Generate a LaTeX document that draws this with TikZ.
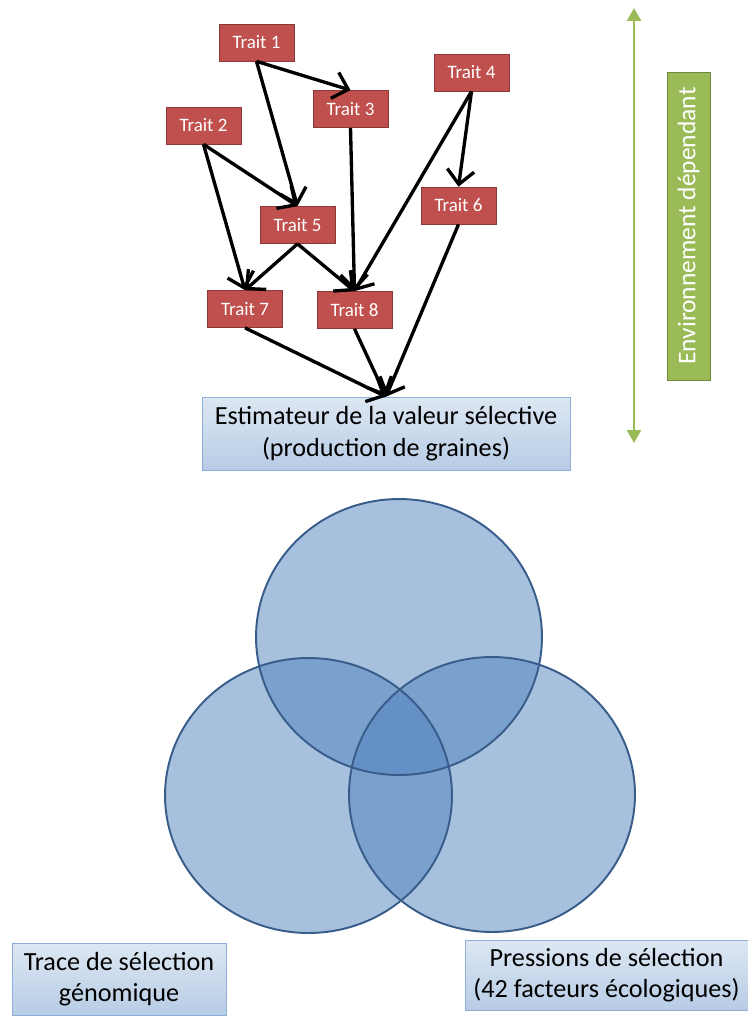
\documentclass[tikz,border=0pt]{standalone}
\usepackage{fontspec}
\setmainfont{Carlito}
\usepackage{tikz}
\usetikzlibrary{arrows.meta, shadows}

\definecolor{traitred}{HTML}{C0504D}
\definecolor{traitedge}{HTML}{8C3836}
\definecolor{boxtop}{HTML}{DDE7F3}
\definecolor{boxbottom}{HTML}{B7CCE5}
\definecolor{boxedge}{HTML}{8EAEDA}
\definecolor{envgreen}{HTML}{9BBB59}
\definecolor{envedge}{HTML}{71893F}
\definecolor{vennblue}{HTML}{4F81BD}
\definecolor{vennedge}{HTML}{385D8A}

\begin{document}
\begin{tikzpicture}[
        x=0.02cm, y=-0.02cm,
        trait/.style={
            rectangle,
            draw=traitedge,
            fill=traitred,
            text=white,
            font=\fontsize{10.8}{12}\selectfont,
            minimum width=1.5cm,
            minimum height=0.74cm,
            inner sep=0pt
        },
        result/.style={
            rectangle,
            draw=boxedge,
            top color=boxtop,
            bottom color=boxbottom,
            drop shadow={opacity=0.25, shadow xshift=0.6pt, shadow yshift=-0.8pt},
            align=center,
            font=\fontsize{14.9}{18}\selectfont,
            inner sep=0pt
        },
        envbox/.style={
            rectangle,
            draw=envedge,
            fill=envgreen,
            text=white,
            rotate=90,
            font=\fontsize{14.5}{17}\selectfont,
            minimum width=6.16cm,
            minimum height=0.86cm,
            inner sep=0pt
        },
        arr/.style={-{Straight Barb[length=2.8mm, width=5.4mm]}, line width=1.9pt},
        envarr/.style={{Triangle[length=2.6mm, width=2.8mm]}-{Triangle[length=2.6mm, width=2.8mm]}, draw=envgreen, line width=1.5pt},
        venn/.style={fill=vennblue, fill opacity=0.5},
        vennline/.style={draw=vennedge, line width=1.1pt}
    ]
        \useasboundingbox (0,0) rectangle (747,1017);

        % traits
        \node[trait] (t1) at (256.5,42.5) {Trait 1};
        \node[trait] (t2) at (203.5,125.5) {Trait 2};
        \node[trait] (t3) at (350.5,109) {Trait 3};
        \node[trait] (t4) at (471.5,72.5) {Trait 4};
        \node[trait] (t5) at (297.5,225) {Trait 5};
        \node[trait] (t6) at (458.5,205.5) {Trait 6};
        \node[trait] (t7) at (245,309) {Trait 7};
        \node[trait] (t8) at (354.5,310) {Trait 8};

        \node[result, minimum width=7.36cm, minimum height=1.46cm] (fitness) at (386,433.5) {Estimateur de la valeur sélective\\ (production de graines)};

        \draw[arr] (t1.south) -- (t3.north);
        \draw[arr] (t1.south) -- (t5.north);
        \draw[arr] (t2.south) -- (t5.north);
        \draw[arr] (t2.south) -- (t7.north);
        \draw[arr] (t3.south) -- (t8.north);
        \draw[arr] (t4.south) -- (t8.north);
        \draw[arr] (t4.south) -- (t6.north);
        \draw[arr] (t5.south) -- (t7.north);
        \draw[arr] (t5.south) -- (t8.north);
        \draw[arr] (t7.south) -- (fitness.north);
        \draw[arr] (t8.south) -- (fitness.north);
        \draw[arr] (t6.south) -- (fitness.north);

        % environment
        \coordinate (envtop) at (634,8);
        \coordinate (envbot) at (634,443);
        \draw[envarr] (envtop) -- (envbot);
        \node[envbox] (env) at (688.5,226) {Environnement dépendant};

        % venn
        \coordinate (ctop) at (399,637);
        \coordinate (cleft) at (308.5,795.5);
        \coordinate (cright) at (492,794.5);
        \fill[venn] (ctop) ellipse [x radius=2.86cm, y radius=2.76cm];
        \fill[venn] (cleft) ellipse [x radius=2.87cm, y radius=2.75cm];
        \fill[venn] (cright) ellipse [x radius=2.86cm, y radius=2.75cm];
        \draw[vennline] (ctop) ellipse [x radius=2.86cm, y radius=2.76cm];
        \draw[vennline] (cleft) ellipse [x radius=2.87cm, y radius=2.75cm];
        \draw[vennline] (cright) ellipse [x radius=2.86cm, y radius=2.75cm];

        \node[result, minimum width=4.28cm, minimum height=1.44cm] (trace) at (119,979) {Trace de sélection\\ génomique};
        \node[result, minimum width=5.66cm, minimum height=1.4cm] (pressure) at (606.5,975) {Pressions de sélection\\ (42 facteurs écologiques)};
    \end{tikzpicture}
\end{document}
